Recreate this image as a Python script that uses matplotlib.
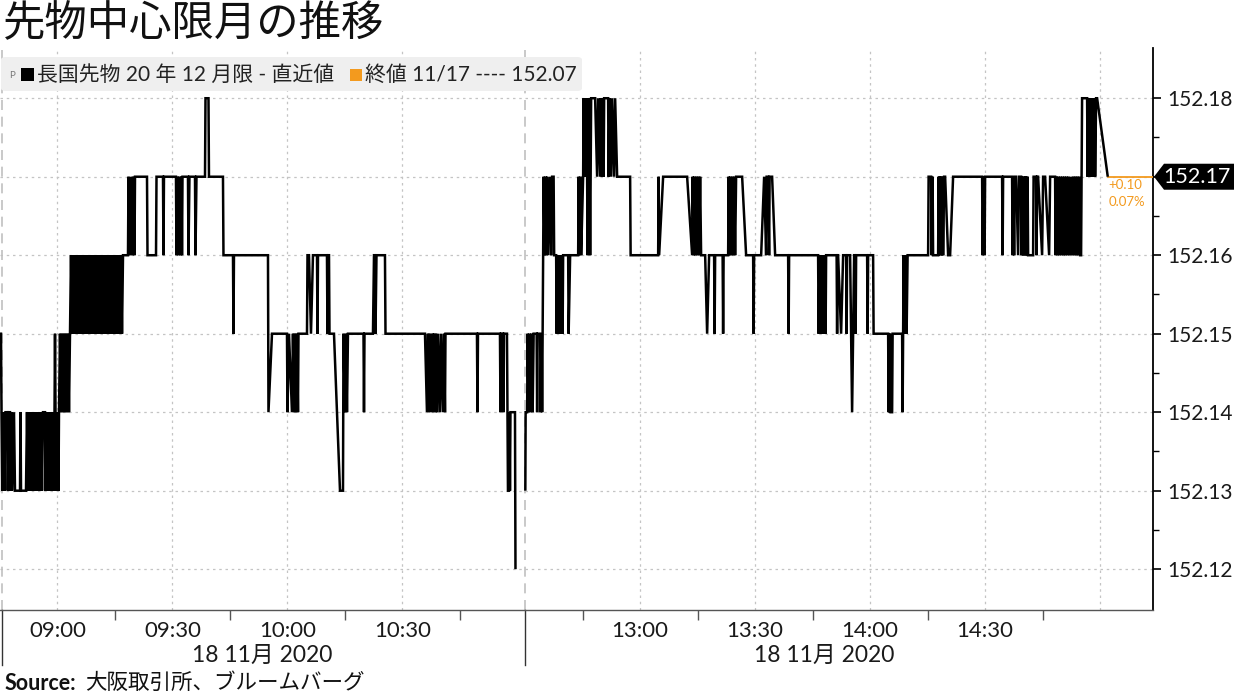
import matplotlib
matplotlib.use("Agg")
import matplotlib.pyplot as plt
from matplotlib.patches import Polygon, FancyBboxPatch, Rectangle
from matplotlib.transforms import blended_transform_factory
import numpy as np

W, H = 1234, 694
plt.rcParams['font.family'] = ['Lato', 'Noto Sans CJK JP', 'DejaVu Sans']
MIXED = ['Lato', 'Noto Sans CJK JP']

# ---------------- text ----------------
title = "先物中心限月の推移"
series_label = "長国先物 20 年 12 月限 - 直近値"
prev_close_label = "終値 11/17 ---- 152.07"
prev_close = 152.07
source_head = "Source:"
source_label = "大阪取引所、ブルームバーグ"
date_label = "18 11月 2020"

# ---------------- sessions ----------------
am_open, am_close = "08:45", "11:02"
pm_open, pm_close = "12:30", "15:02"
x_tick_labels = ["09:00", "09:30", "10:00", "10:30", "13:00", "13:30", "14:00", "14:30"]
x_extra_grid = ["15:00"]
x_minor_ticks = ["09:15", "09:45", "10:15", "10:45", "12:45", "13:15", "13:45", "14:15", "14:45", "15:00"]
y_ticks = [152.12, 152.13, 152.14, 152.15, 152.16, 152.17, 152.18]

# ---------------- data: morning (minutes after 08:45) ----------------
am_minutes = [
    0.00, 0.26, 0.39, 0.57, 0.73, 0.91, 1.10, 1.30, 1.43, 1.96,
    2.09, 2.22, 2.61, 2.74, 3.00, 3.13, 3.65, 3.91, 5.22, 5.35,
    5.48, 6.78, 7.04, 7.30, 7.57, 7.83, 8.09, 8.35, 8.61, 8.87,
    9.13, 9.39, 9.65, 9.91, 10.17, 10.43, 10.70, 10.96, 11.22, 11.74,
    11.87, 12.13, 12.39, 12.65, 12.91, 13.17, 13.43, 13.70, 13.96, 14.22,
    14.35, 14.48, 14.74, 15.00, 15.26, 15.39, 15.65, 15.91, 16.17, 16.43,
    16.70, 16.96, 17.22, 17.48, 17.74, 18.00, 18.26, 18.52, 18.78, 19.04,
    19.30, 19.57, 19.83, 20.09, 20.35, 20.61, 20.87, 21.26, 21.39, 21.65,
    21.91, 22.17, 22.43, 22.70, 22.96, 23.35, 23.48, 23.74, 24.00, 24.26,
    24.52, 24.78, 25.04, 25.30, 25.57, 25.83, 26.09, 26.35, 26.61, 26.87,
    27.13, 27.39, 27.65, 27.91, 28.17, 28.43, 28.70, 28.96, 29.22, 29.48,
    29.74, 30.00, 30.26, 30.65, 30.78, 31.17, 31.30, 31.57, 31.83, 32.09,
    33.39, 33.52, 33.91, 34.17, 34.57, 34.70, 35.09, 35.22, 38.35, 38.48,
    40.70, 40.83, 42.52, 42.65, 42.78, 45.91, 46.04, 46.30, 46.57, 46.83,
    47.09, 47.35, 47.48, 47.61, 49.04, 49.17, 49.43, 50.87, 51.00, 51.26,
    53.48, 53.61, 54.39, 54.52, 58.17, 58.30, 60.78, 60.91, 61.04, 69.91,
    70.04, 70.96, 74.87, 75.00, 75.39, 76.17, 76.43, 76.70, 76.96, 77.22,
    77.48, 77.74, 77.87, 80.09, 80.22, 80.61, 81.13, 81.65, 82.70, 82.83,
    82.96, 85.30, 85.43, 85.57, 85.83, 85.96, 87.13, 88.70, 89.48, 89.61,
    90.00, 90.26, 90.52, 90.78, 94.83, 94.96, 95.09, 97.30, 97.57, 97.83,
    97.96, 98.22, 100.43, 100.57, 110.87, 111.39, 111.65, 111.91, 112.17, 112.43,
    112.83, 112.96, 113.22, 113.61, 113.74, 114.00, 114.26, 114.78, 115.04, 115.57,
    115.83, 116.09, 116.22, 124.43, 124.57, 124.70, 130.43, 130.57, 130.70, 131.22,
    131.35, 131.48, 132.26, 132.39, 132.52, 132.78, 132.91, 133.04, 133.17, 134.35,
    134.48,
]
am_prices = [
    152.15, 152.15, 152.14, 152.13, 152.14, 152.13, 152.14, 152.13, 152.14, 152.14,
    152.13, 152.14, 152.14, 152.13, 152.14, 152.13, 152.14, 152.13, 152.13, 152.14,
    152.13, 152.13, 152.14, 152.13, 152.14, 152.13, 152.14, 152.13, 152.14, 152.13,
    152.14, 152.13, 152.14, 152.13, 152.14, 152.13, 152.14, 152.13, 152.14, 152.14,
    152.13, 152.14, 152.13, 152.14, 152.13, 152.14, 152.13, 152.14, 152.13, 152.14,
    152.15, 152.14, 152.13, 152.14, 152.13, 152.14, 152.15, 152.14, 152.15, 152.14,
    152.15, 152.14, 152.15, 152.14, 152.15, 152.14, 152.15, 152.16, 152.15, 152.16,
    152.15, 152.16, 152.15, 152.16, 152.15, 152.16, 152.15, 152.16, 152.15, 152.16,
    152.15, 152.16, 152.15, 152.16, 152.15, 152.16, 152.15, 152.16, 152.15, 152.16,
    152.15, 152.16, 152.15, 152.16, 152.15, 152.16, 152.15, 152.16, 152.15, 152.16,
    152.15, 152.16, 152.15, 152.16, 152.15, 152.16, 152.15, 152.16, 152.15, 152.16,
    152.15, 152.16, 152.15, 152.16, 152.15, 152.16, 152.15, 152.16, 152.15, 152.16,
    152.16, 152.17, 152.16, 152.17, 152.16, 152.17, 152.16, 152.17, 152.17, 152.16,
    152.16, 152.17, 152.17, 152.16, 152.17, 152.17, 152.16, 152.17, 152.16, 152.17,
    152.16, 152.17, 152.16, 152.17, 152.17, 152.16, 152.17, 152.17, 152.16, 152.17,
    152.17, 152.18, 152.18, 152.17, 152.17, 152.16, 152.16, 152.15, 152.16, 152.16,
    152.14, 152.15, 152.15, 152.14, 152.15, 152.14, 152.15, 152.14, 152.15, 152.14,
    152.15, 152.14, 152.15, 152.15, 152.16, 152.16, 152.15, 152.16, 152.16, 152.15,
    152.16, 152.16, 152.15, 152.16, 152.16, 152.15, 152.15, 152.13, 152.13, 152.15,
    152.14, 152.15, 152.14, 152.15, 152.15, 152.14, 152.15, 152.15, 152.16, 152.16,
    152.15, 152.16, 152.16, 152.15, 152.15, 152.14, 152.15, 152.14, 152.15, 152.14,
    152.15, 152.14, 152.15, 152.14, 152.15, 152.14, 152.15, 152.14, 152.15, 152.14,
    152.15, 152.14, 152.15, 152.15, 152.14, 152.15, 152.15, 152.14, 152.15, 152.15,
    152.14, 152.15, 152.15, 152.14, 152.13, 152.13, 152.14, 152.13, 152.14, 152.14,
    152.12,
]

# ---------------- data: afternoon (minutes after 12:30) ----------------
pm_minutes = [
    0.05, 0.13, 0.52, 0.65, 0.91, 1.17, 1.43, 1.70, 1.96, 2.22,
    3.00, 3.13, 3.26, 3.91, 4.04, 4.30, 4.43, 4.57, 4.70, 4.83,
    5.09, 5.35, 5.61, 5.74, 6.00, 6.52, 6.78, 7.04, 7.43, 7.57,
    8.09, 8.22, 8.35, 8.48, 8.74, 8.87, 9.26, 9.39, 9.65, 9.78,
    9.91, 11.22, 11.35, 11.74, 13.83, 13.96, 14.09, 14.48, 14.61, 15.13,
    15.26, 15.39, 15.52, 15.65, 15.78, 15.91, 16.04, 16.17, 16.30, 16.43,
    16.70, 16.83, 16.96, 17.09, 17.22, 18.26, 18.78, 19.04, 19.57, 19.70,
    20.09, 20.22, 20.48, 20.61, 21.65, 21.78, 22.04, 22.43, 22.70, 23.22,
    23.48, 24.00, 27.39, 27.52, 34.70, 34.83, 34.96, 36.00, 42.26, 43.57,
    43.70, 43.96, 44.09, 44.35, 44.61, 44.87, 45.13, 45.39, 45.65, 45.91,
    46.96, 47.48, 48.00, 49.30, 49.43, 49.57, 51.52, 51.65, 51.78, 52.96,
    53.09, 53.22, 53.48, 53.74, 54.00, 54.26, 54.52, 54.78, 55.04, 56.61,
    57.65, 59.48, 59.61, 59.74, 61.57, 62.35, 62.87, 63.00, 63.39, 63.65,
    63.78, 64.43, 65.22, 68.61, 68.74, 68.87, 76.43, 76.57, 76.83, 76.96,
    77.22, 77.35, 77.61, 77.74, 78.00, 78.13, 78.26, 78.39, 78.52, 81.26,
    81.39, 81.52, 81.65, 82.43, 82.96, 83.74, 83.87, 84.00, 84.78, 85.30,
    85.83, 86.09, 86.22, 86.35, 89.22, 89.35, 89.48, 90.78, 90.91, 94.70,
    94.83, 94.96, 95.09, 95.22, 95.35, 95.74, 95.87, 98.35, 98.48, 98.61,
    98.74, 98.87, 99.13, 99.26, 99.39, 99.52, 99.78, 105.13, 105.26, 105.91,
    106.04, 106.30, 106.43, 107.74, 107.87, 108.00, 108.13, 108.39, 108.52, 108.78,
    108.91, 109.04, 109.30, 109.57, 110.35, 110.87, 111.65, 119.22, 119.35, 119.61,
    119.87, 120.00, 124.43, 124.57, 124.70, 127.04, 127.17, 127.43, 127.57, 127.70,
    128.09, 128.61, 128.87, 129.39, 129.52, 129.65, 129.91, 130.04, 130.17, 130.43,
    130.57, 130.70, 130.83, 131.09, 131.22, 132.52, 132.65, 133.30, 133.43, 133.57,
    133.83, 134.87, 135.13, 135.65, 136.70, 136.96, 138.26, 138.39, 138.65, 138.91,
    139.17, 139.43, 139.70, 139.96, 140.22, 140.48, 140.74, 141.00, 141.26, 141.52,
    141.78, 142.04, 142.43, 142.70, 142.96, 143.22, 143.48, 143.74, 144.00, 144.26,
    144.52, 144.78, 145.04, 145.17, 145.30, 146.61, 146.74, 146.87, 147.13, 147.39,
    147.52, 147.78, 147.91, 148.17, 148.30, 148.57, 148.70, 148.96, 149.22, 152.00,
]
pm_prices = [
    152.13, 152.14, 152.14, 152.15, 152.14, 152.15, 152.14, 152.15, 152.14, 152.15,
    152.15, 152.14, 152.15, 152.15, 152.14, 152.15, 152.14, 152.15, 152.16, 152.17,
    152.16, 152.17, 152.16, 152.17, 152.16, 152.17, 152.16, 152.17, 152.17, 152.16,
    152.16, 152.15, 152.16, 152.15, 152.16, 152.15, 152.16, 152.15, 152.16, 152.15,
    152.16, 152.16, 152.15, 152.16, 152.16, 152.17, 152.16, 152.17, 152.16, 152.17,
    152.18, 152.17, 152.18, 152.17, 152.18, 152.17, 152.18, 152.17, 152.16, 152.17,
    152.18, 152.17, 152.16, 152.17, 152.18, 152.18, 152.17, 152.18, 152.17, 152.18,
    152.17, 152.18, 152.17, 152.18, 152.18, 152.17, 152.18, 152.17, 152.18, 152.17,
    152.18, 152.17, 152.17, 152.16, 152.16, 152.17, 152.16, 152.17, 152.17, 152.16,
    152.17, 152.16, 152.17, 152.16, 152.17, 152.16, 152.17, 152.16, 152.17, 152.16,
    152.16, 152.15, 152.16, 152.16, 152.15, 152.16, 152.16, 152.15, 152.16, 152.16,
    152.17, 152.16, 152.17, 152.16, 152.17, 152.16, 152.17, 152.16, 152.17, 152.17,
    152.16, 152.16, 152.15, 152.16, 152.16, 152.17, 152.16, 152.17, 152.17, 152.16,
    152.17, 152.17, 152.16, 152.16, 152.15, 152.16, 152.16, 152.15, 152.16, 152.15,
    152.16, 152.15, 152.16, 152.15, 152.16, 152.15, 152.16, 152.15, 152.16, 152.16,
    152.15, 152.16, 152.16, 152.15, 152.16, 152.16, 152.15, 152.16, 152.16, 152.14,
    152.16, 152.16, 152.15, 152.16, 152.16, 152.15, 152.16, 152.16, 152.15, 152.15,
    152.14, 152.15, 152.14, 152.15, 152.14, 152.14, 152.15, 152.15, 152.14, 152.15,
    152.16, 152.15, 152.16, 152.15, 152.16, 152.15, 152.16, 152.16, 152.17, 152.17,
    152.16, 152.17, 152.16, 152.16, 152.17, 152.16, 152.17, 152.16, 152.17, 152.16,
    152.17, 152.16, 152.17, 152.17, 152.16, 152.16, 152.17, 152.17, 152.16, 152.17,
    152.16, 152.17, 152.17, 152.16, 152.17, 152.17, 152.16, 152.17, 152.16, 152.17,
    152.17, 152.16, 152.17, 152.17, 152.16, 152.17, 152.16, 152.17, 152.16, 152.17,
    152.16, 152.17, 152.16, 152.17, 152.16, 152.16, 152.17, 152.17, 152.16, 152.17,
    152.17, 152.16, 152.17, 152.17, 152.16, 152.17, 152.17, 152.16, 152.17, 152.16,
    152.17, 152.16, 152.17, 152.16, 152.17, 152.16, 152.17, 152.16, 152.17, 152.16,
    152.17, 152.16, 152.17, 152.16, 152.17, 152.16, 152.17, 152.16, 152.17, 152.16,
    152.17, 152.16, 152.16, 152.17, 152.18, 152.18, 152.17, 152.18, 152.17, 152.18,
    152.17, 152.18, 152.17, 152.18, 152.17, 152.18, 152.17, 152.18, 152.18, 152.17,
]
assert len(am_minutes) == len(am_prices)
assert len(pm_minutes) == len(pm_prices)

# ---------------- colours ----------------
LINE = "#000000"
ORANGE = "#f39a1e"
GRID = "#c4c4c4"
LEG_BG = "#efefef"
TXT = "#1a1a1a"


def clock(s):
    h, m = s.split(":")
    return int(h) * 60 + int(m)


AM_LEN = clock(am_close) - clock(am_open)


def axis_u(s):
    t = clock(s)
    if t <= clock(am_close):
        return t - clock(am_open)
    return AM_LEN + t - clock(pm_open)


am_u = np.array(am_minutes)
pm_u = AM_LEN + np.array(pm_minutes)
X_MAX = AM_LEN + 163.8

fig = plt.figure(figsize=(W / 100, H / 100), dpi=100)
ax_l, ax_r, ax_t, ax_b = 0, 1153, 48, 610
ax = fig.add_axes([ax_l / W, (H - ax_b) / H, (ax_r - ax_l) / W, (ax_b - ax_t) / H])
ax.set_xlim(0, X_MAX)
ax.set_ylim(152.1148, 152.1864)

for s in ["top", "left"]:
    ax.spines[s].set_visible(False)
ax.spines["right"].set_color("black")
ax.spines["right"].set_linewidth(1.3)
ax.spines["bottom"].set_color("#555555")
ax.spines["bottom"].set_linewidth(1.0)

# lines
kw = dict(color=LINE, lw=1.8, solid_joinstyle="miter", solid_capstyle="butt", zorder=4)
ax.plot(am_u, am_prices, **kw)
ax.plot(pm_u, pm_prices, **kw)
last = pm_prices[-1]
ax.plot([pm_u[-1], X_MAX], [last, last], color=ORANGE, lw=1.3, zorder=3)

# y axis
ax.yaxis.tick_right()
ax.set_yticks(y_ticks)
ax.set_yticklabels([("" if abs(v - last) < 1e-9 else f"{v:.2f}") for v in y_ticks])
ax.set_yticks([v + 0.005 for v in y_ticks[:-1]], minor=True)
ax.tick_params(axis="y", which="major", length=6, width=1.2, color="black", pad=4,
               labelsize=15, labelcolor=TXT)
ax.tick_params(axis="y", which="minor", length=4, width=1.0, color="black")

# x axis
grid_u = [axis_u(s) for s in x_tick_labels + x_extra_grid]
ax.set_xticks(grid_u)
ax.set_xticklabels(x_tick_labels + [""] * len(x_extra_grid))
ax.set_xticks([axis_u(s) for s in x_minor_ticks], minor=True)
ax.tick_params(axis="x", which="major", length=0, pad=8, labelsize=16, labelcolor=TXT)
ax.tick_params(axis="x", which="minor", length=7, width=1.0, color="#555555")

ax.grid(True, which="major", color=GRID, ls=(0, (2, 3)), lw=0.9)
ax.set_axisbelow(True)

# session separators
for u in [0.4, AM_LEN]:
    ax.axvline(u, color="#c0c0c0", ls=(0, (6, 4)), lw=1.2, zorder=2)
btrans = blended_transform_factory(ax.transData, ax.transAxes)
for u in [0.5, AM_LEN]:
    ax.plot([u, u], [0, -55 / (ax_b - ax_t)], transform=btrans, clip_on=False,
            color="#333333", lw=1.0)

# date labels
for u in [AM_LEN / 2, (AM_LEN + axis_u(pm_close)) / 2 + 2]:
    ax.annotate(date_label, xy=(u, 0), xycoords=btrans, xytext=(0, -45),
                textcoords="offset pixels", ha="center", va="center", fontsize=16.5,
                color=TXT, family=MIXED)

# change annotation
chg = last - prev_close
pct = chg / prev_close * 100
ax.annotate(f"{chg:+.2f}", xy=(pm_u[-1], last), xytext=(1, -8), textcoords="offset pixels",
            ha="left", va="center", fontsize=9.5, color=ORANGE)
ax.annotate(f"{pct:.2f}%", xy=(pm_u[-1], last), xytext=(1, -25), textcoords="offset pixels",
            ha="left", va="center", fontsize=9.5, color=ORANGE)

# last price tag
y0 = ax.transData.transform((0, last))[1]
x0 = ax_r
hh = 13
verts = np.array([[x0 + 1, y0], [x0 + 11, y0 + hh], [W, y0 + hh], [W, y0 - hh], [x0 + 11, y0 - hh]])
fig.add_artist(Polygon(verts / [W, H], closed=True, transform=fig.transFigure,
                       facecolor="black", edgecolor="none", zorder=10))
fig.text((x0 + 10) / W, y0 / H, f"{last:.2f}", color="white", fontsize=15.5,
         ha="left", va="center", zorder=11)


def fx(px):
    return px / W


def fy(py):
    return 1 - py / H


# title
fig.text(fx(3), fy(24), title, fontsize=30.5, family=["Noto Sans CJK JP"], va="center", ha="left",
         color="#111111")

# legend
fig.add_artist(FancyBboxPatch((fx(1), fy(91)), fx(582) - fx(1), fy(57) - fy(91),
                              boxstyle="round,pad=0,rounding_size=0.004",
                              transform=fig.transFigure, facecolor=LEG_BG, edgecolor="none", zorder=5))
fig.text(fx(9), fy(75), "P", fontsize=7, color="#777777", va="center", ha="left", zorder=6)
fig.add_artist(Rectangle((fx(21), fy(81)), fx(13), fy(68) - fy(81), transform=fig.transFigure,
                         facecolor="black", edgecolor="none", zorder=6))
fig.text(fx(37), fy(75), series_label, fontsize=15, family=MIXED, va="center",
         ha="left", color="#222222", zorder=6)
fig.add_artist(Rectangle((fx(350), fy(81)), fx(12), fy(69) - fy(81), transform=fig.transFigure,
                         facecolor=ORANGE, edgecolor="none", zorder=6))
fig.text(fx(365), fy(75), prev_close_label, fontsize=15, family=MIXED, va="center",
         ha="left", color="#222222", zorder=6)

# source
t1 = fig.text(fx(5), fy(683), source_head, fontsize=15.5, fontweight="bold", va="center", ha="left",
              color="#111111")
fig.canvas.draw()
bb = t1.get_window_extent()
fig.text((bb.x1 + 8) / W, fy(683), source_label, fontsize=15.5, family=MIXED,
         va="center", ha="left", color="#111111")

fig.savefig("out.png", dpi=100)
